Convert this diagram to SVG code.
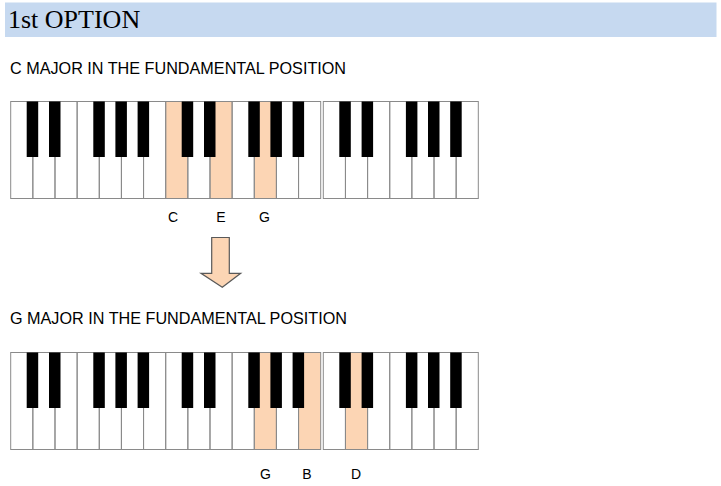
<svg xmlns="http://www.w3.org/2000/svg" xmlns:xlink="http://www.w3.org/1999/xlink" width="721" height="486" viewBox="0 0 721 486">
  <style>
    .title { font-family: "Liberation Serif", "Times New Roman", serif; font-size: 26px; fill: #000; }
    .sub { font-family: "Liberation Sans", Arial, sans-serif; font-size: 16.2px; fill: #000; }
    .note { font-family: "Liberation Sans", Arial, sans-serif; font-size: 14px; fill: #000; text-anchor: middle; }
    .wk { fill: none; stroke: #8a8a8a; stroke-width: 1; }
    .bk { fill: #000; }
    .hl { fill: #fcd5b4; }
    .bg { fill: #fff; }
    .arrow { fill: #fcd5b4; stroke: #595959; stroke-width: 1.2; }
  </style>
  <defs>
    <g id="octave">
      <rect class="wk" x="0" y="0" width="22.14" height="97"/>
      <rect class="wk" x="22.14" y="0" width="22.14" height="97"/>
      <rect class="wk" x="44.29" y="0" width="22.14" height="97"/>
      <rect class="wk" x="66.43" y="0" width="22.14" height="97"/>
      <rect class="wk" x="88.57" y="0" width="22.14" height="97"/>
      <rect class="wk" x="110.71" y="0" width="22.14" height="97"/>
      <rect class="wk" x="132.86" y="0" width="22.14" height="97"/>
      <rect class="bk" x="16" y="0" width="11.5" height="55.5"/>
      <rect class="bk" x="38.3" y="0" width="11.5" height="55.5"/>
      <rect class="bk" x="82.6" y="0" width="11.5" height="55.5"/>
      <rect class="bk" x="104.7" y="0" width="11.5" height="55.5"/>
      <rect class="bk" x="126.9" y="0" width="11.5" height="55.5"/>
    </g>
  </defs>

  <rect x="0" y="0" width="721" height="486" fill="#fff"/>

  <g id="header">
    <rect x="5" y="2.5" width="711.5" height="34.5" fill="#c6d9f0"/>
    <text class="title" x="8" y="28">1st OPTION</text>
  </g>

  <g id="c-major">
    <text class="sub" x="10" y="74">C MAJOR IN THE FUNDAMENTAL POSITION</text>
    <g id="keyboard-c" transform="translate(10.7,101.5)">
      <rect class="bg" x="0" y="0" width="467.6" height="97"/>
      <rect class="hl" x="155" y="0" width="22.14" height="97"/>
      <rect class="hl" x="199.3" y="0" width="22.14" height="97"/>
      <rect class="hl" x="243.6" y="0" width="22.14" height="97"/>
      <use xlink:href="#octave" x="0" y="0"/>
      <use xlink:href="#octave" x="155" y="0"/>
      <use xlink:href="#octave" x="312.6" y="0"/>
    </g>
    <text class="note" x="173" y="222">C</text>
    <text class="note" x="221" y="222">E</text>
    <text class="note" x="264.5" y="222">G</text>
  </g>

  <g id="connectors">
    <path class="arrow" d="M211.7,237.5 L229.3,237.5 L229.3,273.3 L240.7,273.3 L222.3,287.3 L201,273.3 L211.7,273.3 Z"/>
  </g>

  <g id="g-major">
    <text class="sub" x="10" y="324">G MAJOR IN THE FUNDAMENTAL POSITION</text>
    <g id="keyboard-g" transform="translate(10.7,352.5)">
      <rect class="bg" x="0" y="0" width="467.6" height="97"/>
      <rect class="hl" x="243.6" y="0" width="22.14" height="97"/>
      <rect class="hl" x="287.9" y="0" width="22.14" height="97"/>
      <rect class="hl" x="334.7" y="0" width="22.14" height="97"/>
      <use xlink:href="#octave" x="0" y="0"/>
      <use xlink:href="#octave" x="155" y="0"/>
      <use xlink:href="#octave" x="312.6" y="0"/>
    </g>
    <text class="note" x="265.5" y="479">G</text>
    <text class="note" x="307" y="479">B</text>
    <text class="note" x="356" y="479">D</text>
  </g>
</svg>
